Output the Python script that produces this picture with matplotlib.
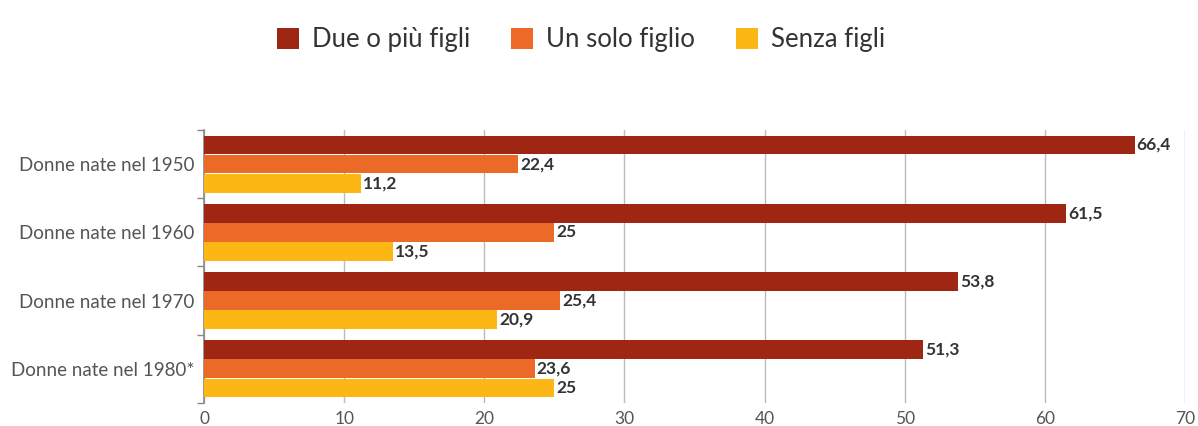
import matplotlib.pyplot as plt
import numpy as np

plt.rcParams['font.family'] = ['Lato', 'DejaVu Sans']

categories = ['Donne nate nel 1950', 'Donne nate nel 1960',
              'Donne nate nel 1970', 'Donne nate nel 1980*']
series = ['Due o più figli', 'Un solo figlio', 'Senza figli']
due_o_piu = [66.4, 61.5, 53.8, 51.3]
un_solo = [22.4, 25, 25.4, 23.6]
senza = [11.2, 13.5, 20.9, 25]
colors = ['#9f2612', '#ec6a28', '#fdb714']

fig = plt.figure(figsize=(11.98, 4.26), dpi=100)
ax = fig.add_axes([0.1703, 0.054, 0.8189, 0.641])

y = np.arange(len(categories))
h = 0.28
for i, (vals, name, c) in enumerate(zip([due_o_piu, un_solo, senza], series, colors)):
    pos = y + (i - 1) * h
    ax.barh(pos, vals, height=h * 0.98, color=c, label=name, zorder=3)
    for p, v in zip(pos, vals):
        txt = ('%g' % v).replace('.', ',')
        ax.text(v + 0.15, p, txt, va='center', ha='left', fontsize=12.5,
                fontweight='bold', color='#333333', zorder=4)

ax.set_xlim(0, 70)
ax.set_ylim(len(categories) - 0.5, -0.5)
ax.set_xticks(range(0, 71, 10))
ax.xaxis.grid(True, color='#bbbbbb', linewidth=1, zorder=0)
ax.tick_params(axis='x', length=0, labelsize=12.5, labelcolor='#555555', pad=6)

ax.set_yticks(y)
ax.set_yticklabels(categories)
ax.set_yticks(np.arange(-0.5, len(categories), 1), minor=True)
ax.tick_params(axis='y', which='major', length=0, labelsize=13.5, labelcolor='#555555', pad=7)
ax.tick_params(axis='y', which='minor', length=5, color='#888888', width=1)

for s in ['top', 'right', 'bottom']:
    ax.spines[s].set_visible(False)
ax.spines['left'].set_color('#888888')
ax.spines['left'].set_linewidth(1.2)

fig.legend(loc='upper center', bbox_to_anchor=(0.485, 0.99), ncol=3, frameon=False,
           fontsize=18.5, handlelength=0.85, handleheight=0.85, columnspacing=1.6,
           handletextpad=0.5, labelcolor='#333333')

fig.savefig('out.png', dpi=100)
